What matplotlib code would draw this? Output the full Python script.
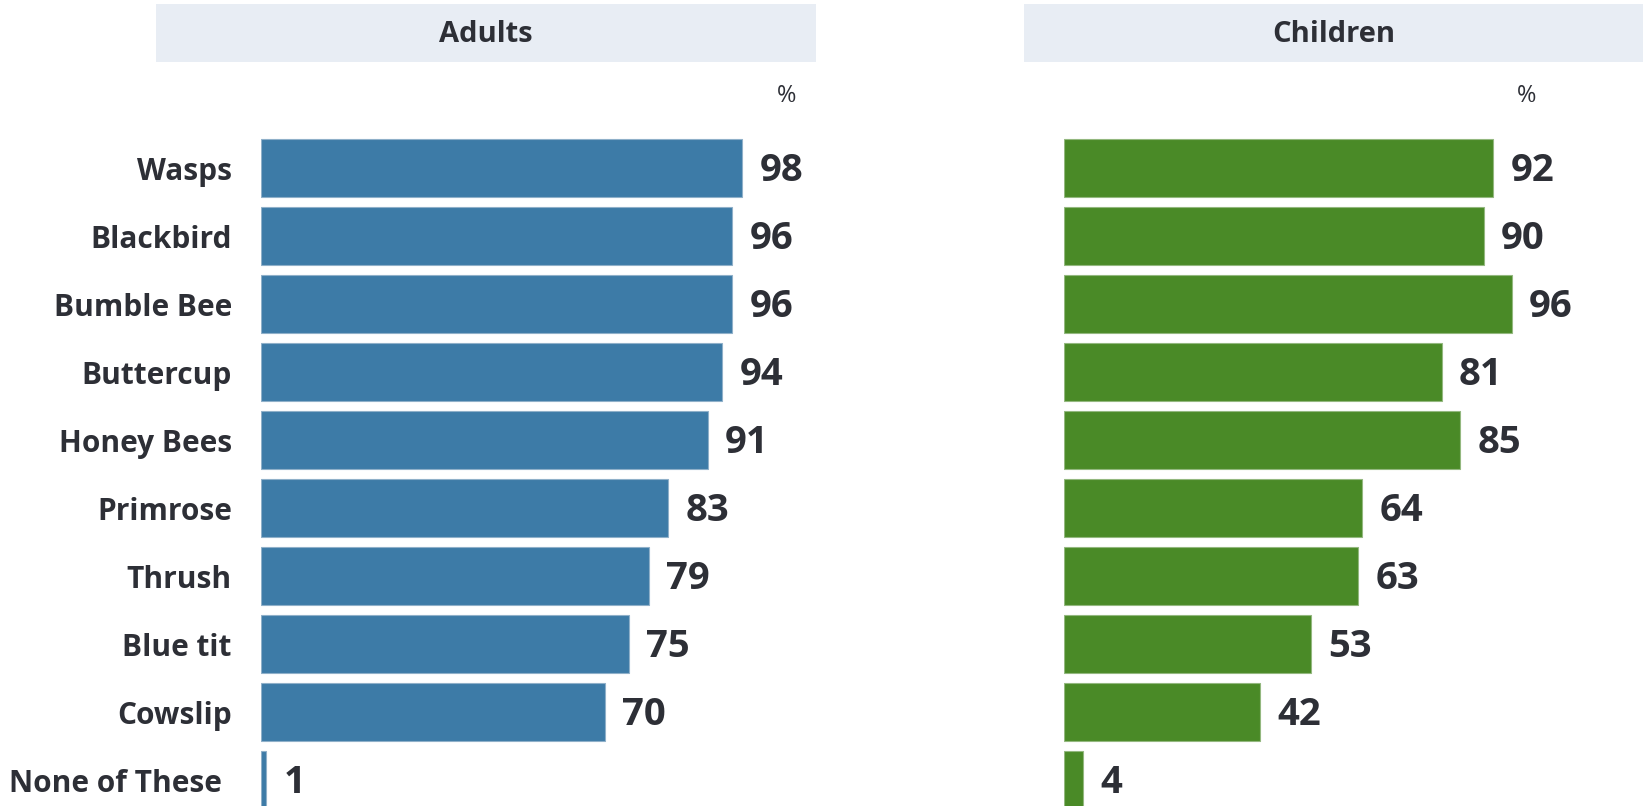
import matplotlib
matplotlib.use("Agg")
import matplotlib.pyplot as plt
from matplotlib.patches import Rectangle
from matplotlib.transforms import ScaledTranslation

categories = ["Wasps", "Blackbird", "Bumble Bee", "Buttercup", "Honey Bees",
              "Primrose", "Thrush", "Blue tit", "Cowslip", "None of These"]
adults = [98, 96, 96, 94, 91, 83, 79, 75, 70, 1]
children = [92, 90, 96, 81, 85, 64, 63, 53, 42, 4]
panel_titles = ["Adults", "Children"]

W, H = 1652, 806
plt.rcParams['font.family'] = ['Open Sans', 'DejaVu Sans']
fig = plt.figure(figsize=(W / 100, H / 100), dpi=100)
fig.patch.set_facecolor("white")

TXT = "#2d2f36"


def frac(x0, y0, x1, y1):
    """pixel box (top-left origin) -> figure fraction rect"""
    return [x0 / W, 1 - y1 / H, (x1 - x0) / W, (y1 - y0) / H]


pitch = 68.0
c0 = 168.3
top = c0 - pitch * 0.5
bot = c0 + pitch * (len(categories) - 0.5)

panels = [
    dict(title=panel_titles[0], vals=adults, color="#3d7ba7", edge="#8fb0c9",
         x0=261, scale=4.908, hdr=(156, 816), pct=787, labels=True),
    dict(title=panel_titles[1], vals=children, color="#4a8a27", edge="#93b87f",
         x0=1064, scale=4.663, hdr=(1024, 1643), pct=1527, labels=False),
]

for p in panels:
    # header box
    hx0, hx1 = p["hdr"]
    fig.patches.append(Rectangle((hx0 / W, 1 - 62 / H), (hx1 - hx0) / W, 58 / H,
                                 transform=fig.transFigure, facecolor="#e8edf4",
                                 edgecolor="none", zorder=0))
    fig.text((hx0 + hx1) / 2 / W, 1 - 34 / H, p["title"], ha="center", va="center",
             fontsize=21, fontweight="bold", color=TXT)
    fig.text(p["pct"] / W, 1 - 96 / H, "%", ha="center", va="center",
             fontsize=17, color=TXT)

    x1 = p["x0"] + p["scale"] * 100
    ax = fig.add_axes(frac(p["x0"], top, x1, bot))
    ax.set_xlim(0, 100)
    ax.set_ylim(len(categories) - 0.5, -0.5)
    y = list(range(len(categories)))
    ax.barh(y, p["vals"], height=58 / pitch, color=p["color"],
            edgecolor=p["edge"], linewidth=0.8)
    for yi, v in zip(y, p["vals"]):
        ax.annotate(str(v), (v, yi), xytext=(12.5, -2), textcoords="offset points",
                    ha="left", va="center", fontsize=27.5, fontweight="bold",
                    color=TXT, annotation_clip=False)
    for s in ax.spines.values():
        s.set_visible(False)
    ax.set_xticks([])
    if p["labels"]:
        ax.set_yticks(y)
        ax.set_yticklabels(categories, fontsize=21.5, fontweight="bold", color=TXT)
        ax.tick_params(axis="y", length=0, pad=21)
        last = ax.get_yticklabels()[-1]
        last.set_transform(last.get_transform()
                           + ScaledTranslation(-0.1, 0, fig.dpi_scale_trans))
    else:
        ax.set_yticks([])
    ax.patch.set_alpha(0)

fig.savefig("out.png", dpi=100, facecolor="white")
